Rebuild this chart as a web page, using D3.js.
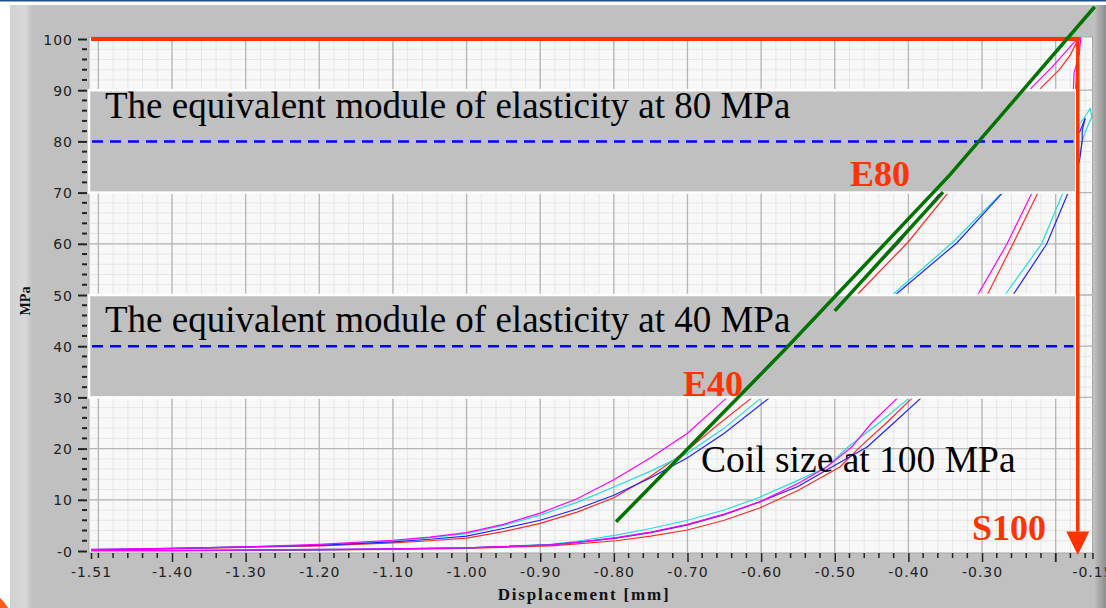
<!DOCTYPE html>
<html>
<head>
<meta charset="utf-8">
<script src="https://cdn.jsdelivr.net/npm/d3@7"></script>
<style>
  body { margin: 0; background: #fff; }
  svg { display: block; }
  .tick text { font-family: 'DejaVu Sans', sans-serif; font-size: 14px; fill: #222; letter-spacing: 1px; }
</style>
</head>
<body>
<div id="chart"></div>
<script>
// axis ticks
const xTicks = [-1.51, -1.40, -1.30, -1.20, -1.10, -1.00, -0.90, -0.80, -0.70, -0.60, -0.50, -0.40, -0.30, -0.15]
const xTickLabels = ['-1.51', '-1.40', '-1.30', '-1.20', '-1.10', '-1.00', '-0.90', '-0.80', '-0.70', '-0.60', '-0.50', '-0.40', '-0.30', '-0.15']
const yTicks = [0, 10, 20, 30, 40, 50, 60, 70, 80, 90, 100]
const yTickLabels = ['-0', '10', '20', '30', '40', '50', '60', '70', '80', '90', '100']

// measured curves [displacement mm, MPa] : loading (up) and unloading (down)
const magentaUp = [[-1.51,0.3],[-1.40,0.5],[-1.30,0.8],[-1.20,1.3],[-1.10,2.1],[-1.05,2.7],[-1.00,3.6],[-0.95,5.2],[-0.90,7.4],[-0.85,10.2],[-0.80,13.9],[-0.75,18.2],[-0.70,23.0],[-0.646,30],[-0.56,40],[-0.481,50],[-0.414,60],[-0.357,70],[-0.29,80],[-0.232,90.6],[-0.205,94.5],[-0.176,99.2],[-0.166,100.3]]
const magentaDown = [[-0.166,100.3],[-0.168,97],[-0.175,93.4],[-0.176,90],[-0.19,82],[-0.21,75],[-0.232,70],[-0.266,60],[-0.306,50],[-0.36,40],[-0.414,30],[-0.45,25],[-0.477,20.3],[-0.511,16.4],[-0.55,13.2],[-0.602,9.6],[-0.65,7.2],[-0.70,5.2],[-0.75,3.7],[-0.797,2.6],[-0.85,1.7],[-0.887,1.2],[-1.00,0.6],[-1.10,0.4],[-1.20,0.3],[-1.30,0.2],[-1.40,0.1],[-1.51,0.1]]
const redUp = [[-1.51,0.1],[-1.40,0.4],[-1.30,0.7],[-1.20,1.0],[-1.10,1.6],[-1.05,2.0],[-1.00,2.5],[-0.95,3.8],[-0.90,5.4],[-0.85,7.6],[-0.80,10.4],[-0.75,14.6],[-0.70,19.7],[-0.66,24.5],[-0.612,30],[-0.54,40],[-0.470,50],[-0.400,60.4],[-0.346,70],[-0.28,80],[-0.219,90.6],[-0.195,94],[-0.180,96.9],[-0.170,99.8]]
const redDown = [[-0.170,99.8],[-0.171,95],[-0.173,90],[-0.185,82],[-0.205,75],[-0.224,70],[-0.258,60],[-0.293,50],[-0.345,40],[-0.394,30],[-0.43,25],[-0.466,20.3],[-0.493,16.4],[-0.55,11.8],[-0.602,8.4],[-0.65,6.0],[-0.70,4.1],[-0.75,2.9],[-0.797,2.0],[-0.85,1.4],[-0.887,1.0],[-1.00,0.5],[-1.10,0.3],[-1.20,0.2],[-1.30,0.1],[-1.40,0.0],[-1.51,0.0]]
const cyanUp = [[-1.51,0.3],[-1.40,0.5],[-1.30,0.8],[-1.20,1.2],[-1.10,2.0],[-1.05,2.6],[-1.00,3.4],[-0.95,5.0],[-0.90,7.0],[-0.85,9.5],[-0.80,12.5],[-0.75,15.6],[-0.70,19.1],[-0.65,24.0],[-0.599,30],[-0.51,40],[-0.422,50],[-0.339,60.4],[-0.273,70],[-0.22,77],[-0.185,81],[-0.167,83.5],[-0.157,85.5],[-0.153,86.5]]
const cyanDown = [[-0.153,86.5],[-0.151,84.8],[-0.158,82.5],[-0.163,80.5],[-0.167,77.7],[-0.175,74],[-0.19,70],[-0.219,60],[-0.269,50],[-0.33,40],[-0.398,30],[-0.44,25],[-0.482,20.3],[-0.511,16.4],[-0.55,13.8],[-0.602,10.5],[-0.65,8.0],[-0.70,6.0],[-0.75,4.4],[-0.797,3.1],[-0.85,1.9],[-0.887,1.3],[-1.00,0.6],[-1.10,0.4],[-1.20,0.3],[-1.30,0.2],[-1.40,0.1],[-1.51,0.1]]
const blueUp = [[-1.51,0.2],[-1.40,0.5],[-1.30,0.8],[-1.20,1.1],[-1.10,1.8],[-1.05,2.3],[-1.00,2.9],[-0.95,4.4],[-0.90,6.0],[-0.85,8.2],[-0.80,10.9],[-0.75,14.3],[-0.70,18.2],[-0.65,23.0],[-0.588,30],[-0.50,40],[-0.418,50],[-0.334,60.2],[-0.272,70],[-0.215,76.5],[-0.180,80],[-0.167,82],[-0.160,84.5]]
const blueDown = [[-0.160,84.5],[-0.164,82],[-0.164,80.3],[-0.167,76.8],[-0.172,73.5],[-0.183,70],[-0.212,60],[-0.258,50],[-0.32,40],[-0.382,30],[-0.42,25],[-0.456,20.3],[-0.504,16.4],[-0.55,12.6],[-0.602,9.6],[-0.65,7.1],[-0.70,5.1],[-0.75,3.6],[-0.797,2.5],[-0.85,1.7],[-0.887,1.2],[-1.00,0.6],[-1.10,0.4],[-1.20,0.2],[-1.30,0.2],[-1.40,0.1],[-1.51,0.1]]

// annotation lines (data units)
const tangent40 = [[-0.797,5.7],[-0.568,39.3],[-0.344,73.4],[-0.147,106.3]]
const tangent80 = [[-0.500,46.9],[-0.353,70.1]]
const bands = [[90, 70], [50, 30]]
const bandLevels = [80, 40]
const bandTexts = ['The equivalent module of elasticity at 80 MPa', 'The equivalent module of elasticity at 40 MPa']
const peakStress = 100
const coilSize = -0.170

const series = [
  { data: redUp, color: '#ff2a2a' },
  { data: redDown, color: '#ff2a2a' },
  { data: cyanUp, color: '#22dddd' },
  { data: cyanDown, color: '#22dddd' },
  { data: blueUp, color: '#2222ff' },
  { data: blueDown, color: '#2222ff' },
  { data: magentaUp, color: '#ff00ff' },
  { data: magentaDown, color: '#ff00ff' },
]

const width = 1106
const height = 608
const red = '#ff3300'

const svg = d3.select('#chart').append('svg').attr('width', width).attr('height', height)

const x = d3.scaleLinear().domain([-1.51, -0.15]).range([91, 1092.5])
const y = d3.scaleLinear().domain([0, 100]).range([551, 39])

// panel background
const defs = svg.append('defs')
const rg = defs.append('linearGradient').attr('id', 'rightEdge')
rg.append('stop').attr('offset', '0%').attr('stop-color', '#bcbcbc')
rg.append('stop').attr('offset', '100%').attr('stop-color', '#8c8c8c')
const lg = defs.append('linearGradient').attr('id', 'leftEdge')
lg.append('stop').attr('offset', '0%').attr('stop-color', '#d2d2d2')
lg.append('stop').attr('offset', '70%').attr('stop-color', '#d8d8d8')
lg.append('stop').attr('offset', '100%').attr('stop-color', '#c2c2c2')

svg.append('rect').attr('x', 10).attr('y', 5).attr('width', width - 10).attr('height', height - 5).attr('fill', '#c0c0c0')
svg.append('rect').attr('x', 10).attr('y', 5).attr('width', 22).attr('height', height - 5).attr('fill', 'url(#leftEdge)')
svg.append('rect').attr('x', 1095).attr('y', 5).attr('width', 11).attr('height', height - 5).attr('fill', 'url(#rightEdge)')
svg.append('rect').attr('x', 0).attr('y', 0).attr('width', width).attr('height', 1.5).attr('fill', '#1c4f96')
svg.append('path').attr('d', 'M0,598 L4,602 L8,608 L0,608 Z').attr('fill', '#ff5a1a')

// plot area
const [x0, x1] = x.range()
const [y0, y1] = [y(100) - 2, y(0) + 2]
svg.append('rect')
  .attr('x', x0 - 2).attr('y', y0)
  .attr('width', x1 - x0 + 2).attr('height', y1 - y0)
  .attr('fill', '#f8f8f8').attr('stroke', '#a8a8a8').attr('stroke-width', 1)

const grid = svg.append('g')
const xMinor = d3.range(-150, -15, 2).map(d => d / 100)
const yMinor = d3.range(2, 100, 2)
grid.selectAll('.vmin').data(xMinor).join('line')
  .attr('x1', d => x(d)).attr('x2', d => x(d)).attr('y1', y0).attr('y2', y1)
  .attr('stroke', '#e6e6e6').attr('stroke-width', 1)
grid.selectAll('.hmin').data(yMinor).join('line')
  .attr('y1', d => y(d)).attr('y2', d => y(d)).attr('x1', x0 - 2).attr('x2', x1)
  .attr('stroke', '#e6e6e6').attr('stroke-width', 1)
const xMajor = d3.range(-150, -19, 10).map(d => d / 100)
grid.selectAll('.vmaj').data(xMajor).join('line')
  .attr('x1', d => x(d)).attr('x2', d => x(d)).attr('y1', y0).attr('y2', y1)
  .attr('stroke', '#b6b6b6').attr('stroke-width', 1.3)
grid.selectAll('.hmaj').data(d3.range(10, 100, 10)).join('line')
  .attr('y1', d => y(d)).attr('y2', d => y(d)).attr('x1', x0 - 2).attr('x2', x1)
  .attr('stroke', '#b6b6b6').attr('stroke-width', 1.3)

// axes
const yAxis = svg.append('g').attr('transform', 'translate(87,0)')
  .call(d3.axisLeft(y).tickValues(yTicks).tickSize(9).tickPadding(5)
    .tickFormat((d, i) => yTickLabels[i]))
yAxis.select('.domain').remove()
yAxis.selectAll('line').attr('stroke', '#222').attr('stroke-width', 2)
yAxis.selectAll('.tick text').attr('dy', '0.36em')
svg.append('g').selectAll('line').data(yMinor.filter(d => d % 10 !== 0)).join('line')
  .attr('x1', 82).attr('x2', 87).attr('y1', d => y(d)).attr('y2', d => y(d))
  .attr('stroke', '#222').attr('stroke-width', 2)

const xAxis = svg.append('g').attr('transform', `translate(0,${y1})`)
  .call(d3.axisBottom(x).tickValues(xTicks).tickSize(9).tickPadding(5)
    .tickFormat((d, i) => xTickLabels[i]))
xAxis.select('.domain').remove()
xAxis.selectAll('line').attr('stroke', '#222').attr('stroke-width', 1.5)
xAxis.selectAll('.tick').filter(d => d === -1.51 || d === -0.15).select('line').attr('y2', 6)
svg.append('g').selectAll('line')
  .data(xMinor.concat([-0.2]).filter(d => Math.round(d * 100) % 10 !== 0 || d === -1.5 || d === -0.2))
  .join('line')
  .attr('x1', d => x(d)).attr('x2', d => x(d))
  .attr('y1', y1).attr('y2', d => (d === -0.2 ? y1 + 9 : y1 + 5))
  .attr('stroke', '#222').attr('stroke-width', 1.5)

svg.append('text')
  .attr('transform', 'translate(30,301) rotate(-90)')
  .attr('text-anchor', 'middle')
  .attr('font-family', 'Liberation Serif, serif').attr('font-weight', 'bold').attr('font-size', 14)
  .attr('fill', '#111')
  .text('MPa')
svg.append('text')
  .attr('x', 584).attr('y', 600)
  .attr('text-anchor', 'middle')
  .attr('font-family', 'Liberation Serif, serif').attr('font-weight', 'bold').attr('font-size', 17)
  .attr('letter-spacing', 1.8)
  .attr('fill', '#111')
  .text('Displacement [mm]')

// curves
defs.append('clipPath').attr('id', 'plotClip')
  .append('rect').attr('x', x0).attr('y', y0).attr('width', x1 - x0).attr('height', y1 - y0)
const line = d3.line().x(d => x(d[0])).y(d => y(d[1]))
svg.append('g').attr('clip-path', 'url(#plotClip)')
  .selectAll('path').data(series).join('path')
  .attr('d', d => line(d.data))
  .attr('fill', 'none').attr('stroke', d => d.color).attr('stroke-width', 1.2)

// grey annotation bands
const bandG = svg.append('g')
bandG.selectAll('rect').data(bands).join('rect')
  .attr('x', x0 - 2).attr('y', d => y(d[0]))
  .attr('width', x(-0.172) - x0 + 2).attr('height', d => y(d[1]) - y(d[0]))
  .attr('fill', '#c0c0c0').attr('stroke', '#fff').attr('stroke-width', 2.5)
bandG.selectAll('line').data(bandLevels).join('line')
  .attr('x1', x0 + 1).attr('x2', x(-0.176))
  .attr('y1', d => y(d)).attr('y2', d => y(d))
  .attr('stroke', '#0000ff').attr('stroke-width', 2.5).attr('stroke-dasharray', '11,7')
bandG.selectAll('text').data(bandTexts).join('text')
  .attr('x', 105).attr('y', (d, i) => (i === 0 ? 118 : 332))
  .attr('font-family', 'Liberation Serif, serif').attr('font-size', 37)
  .attr('fill', '#000')
  .text(d => d)

// peak stress line and coil size arrow
svg.append('line')
  .attr('x1', x0).attr('x2', x(coilSize) + 2)
  .attr('y1', y(peakStress)).attr('y2', y(peakStress))
  .attr('stroke', red).attr('stroke-width', 4)
svg.append('line')
  .attr('x1', x(coilSize)).attr('x2', x(coilSize))
  .attr('y1', y(peakStress)).attr('y2', y(3.8))
  .attr('stroke', red).attr('stroke-width', 3.5)
svg.append('path')
  .attr('d', `M${x(coilSize) - 11.5},${y(3.8)} L${x(coilSize) + 11.5},${y(3.8)} L${x(coilSize)},${y(-0.8)} Z`)
  .attr('fill', red)

// tangent lines
const tLine = d3.line().x(d => x(d[0])).y(d => y(d[1]))
svg.selectAll('.tangent').data([tangent40, tangent80]).join('path')
  .attr('d', d => tLine(d))
  .attr('fill', 'none').attr('stroke', '#007300').attr('stroke-width', 3.5)

// labels
const labels = [
  { t: 'E80', x: 850, y: 186 },
  { t: 'E40', x: 683, y: 396 },
  { t: 'S100', x: 972, y: 540 },
]
svg.selectAll('.lbl').data(labels).join('text')
  .attr('x', d => d.x).attr('y', d => d.y)
  .attr('font-family', 'Liberation Serif, serif').attr('font-weight', 'bold').attr('font-size', 36)
  .attr('fill', red)
  .text(d => d.t)
svg.append('text')
  .attr('x', 701).attr('y', 472)
  .attr('font-family', 'Liberation Serif, serif').attr('font-size', 37.5)
  .attr('fill', '#000')
  .text('Coil size at 100 MPa')
</script>
</body>
</html>
